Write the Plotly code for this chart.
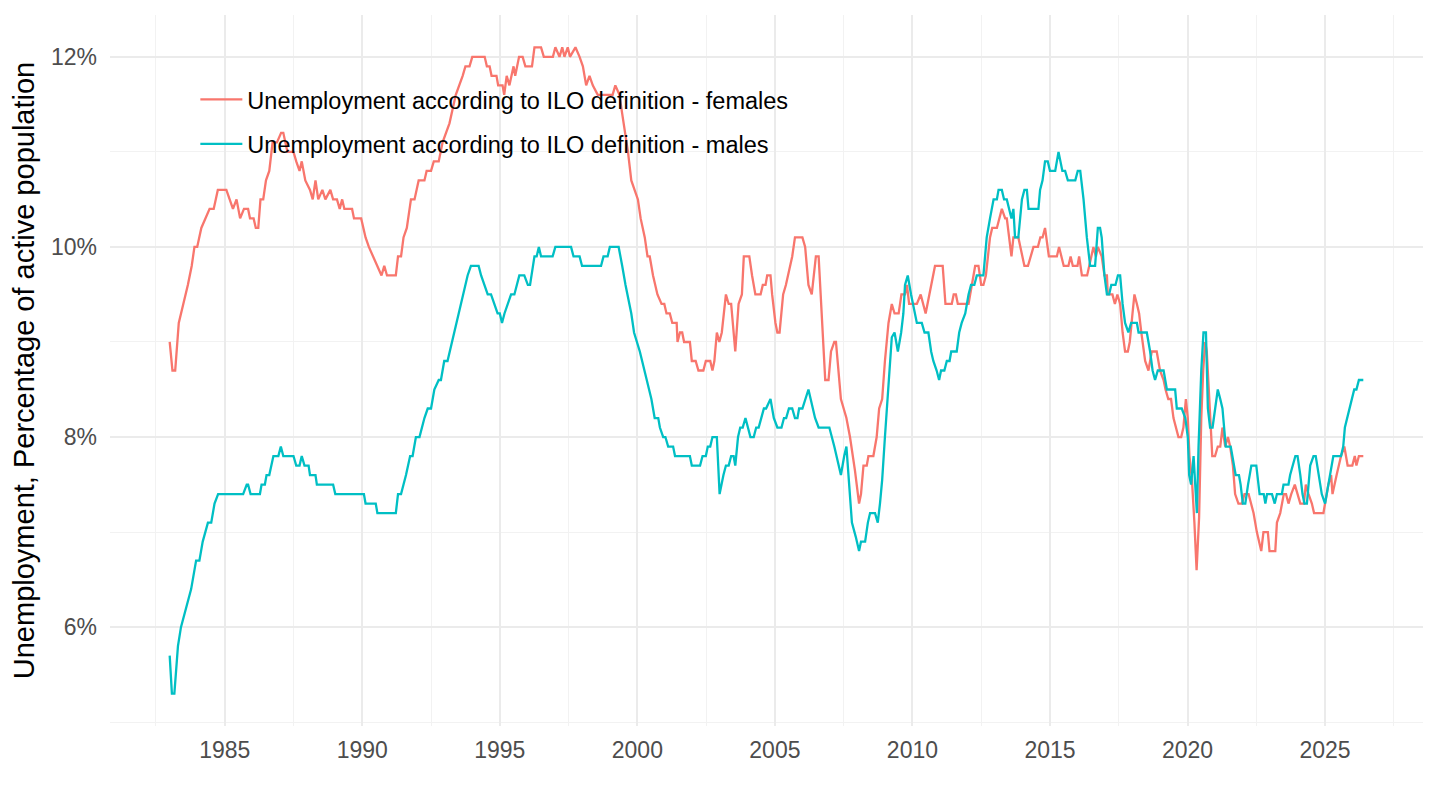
import plotly.graph_objects as go

# ---- data (decimal year, % of active population) ----
fem_year = [1983.00,1983.10,1983.20,1983.33,1983.66,1983.80,1983.90,1984.00,1984.15,1984.30,1984.45,1984.60,1984.75,
1985.06,1985.18,1985.30,1985.43,1985.56,1985.70,1985.85,1985.92,1986.05,1986.13,1986.22,1986.30,1986.40,1986.50,1986.62,
1986.74,1986.90,1987.05,1987.13,1987.28,1987.50,1987.60,1987.72,1987.80,1987.93,1988.10,1988.20,1988.30,1988.40,1988.55,
1988.66,1988.84,1988.94,1989.08,1989.18,1989.27,1989.35,1989.63,1989.70,1989.96,1990.12,1990.24,1990.40,1990.55,1990.70,
1990.80,1990.90,1991.22,1991.30,1991.41,1991.50,1991.62,1991.77,1991.90,1992.05,1992.26,1992.34,1992.50,1992.60,1992.78,
1992.92,1993.17,1993.40,1993.65,1993.75,1993.90,1994.00,1994.45,1994.53,1994.63,1994.70,1994.88,1994.94,1995.10,1995.16,
1995.25,1995.35,1995.50,1995.56,1995.70,1995.83,1995.93,1996.17,1996.26,1996.50,1996.60,1996.93,1997.02,1997.17,1997.27,
1997.35,1997.47,1997.55,1997.75,1997.90,1998.02,1998.14,1998.26,1998.38,1998.56,1999.10,1999.20,1999.35,1999.45,1999.56,
1999.66,1999.78,1999.90,2000.02,2000.12,2000.27,2000.37,2000.45,2000.57,2000.73,2000.88,2000.98,2001.06,2001.18,2001.27,
2001.43,2001.46,2001.55,2001.63,2001.70,2001.91,2001.98,2002.12,2002.22,2002.40,2002.49,2002.65,2002.73,2002.80,2002.89,
2002.98,2003.07,2003.22,2003.32,2003.41,2003.56,2003.68,2003.80,2003.87,2004.07,2004.17,2004.29,2004.48,2004.56,2004.66,
2004.72,2004.84,2004.90,2005.02,2005.09,2005.17,2005.30,2005.40,2005.63,2005.73,2006.00,2006.10,2006.22,2006.34,2006.49,
2006.59,2006.73,2006.83,2006.95,2007.04,2007.16,2007.22,2007.40,2007.60,2007.73,2007.91,2008.06,2008.13,2008.22,2008.34,
2008.40,2008.58,2008.70,2008.79,2008.90,2009.00,2009.13,2009.25,2009.35,2009.50,2009.60,2009.73,2009.80,2009.88,2010.16,
2010.30,2010.48,2010.70,2010.82,2011.10,2011.20,2011.43,2011.50,2011.58,2011.65,2012.04,2012.16,2012.28,2012.40,2012.50,
2012.58,2012.67,2012.82,2012.90,2013.07,2013.25,2013.37,2013.43,2013.60,2013.67,2013.85,2013.98,2014.07,2014.20,2014.40,
2014.56,2014.65,2014.73,2014.82,2014.96,2015.25,2015.33,2015.50,2015.67,2015.75,2015.83,2016.00,2016.06,2016.16,2016.35,
2016.42,2016.58,2016.67,2016.74,2016.88,2016.98,2017.07,2017.10,2017.27,2017.36,2017.45,2017.55,2017.64,2017.73,2017.83,
2017.90,2018.00,2018.07,2018.16,2018.24,2018.32,2018.46,2018.58,2018.70,2018.88,2019.00,2019.13,2019.20,2019.30,2019.40,
2019.49,2019.58,2019.67,2019.77,2019.85,2019.94,2020.01,2020.07,2020.16,2020.25,2020.33,2020.42,2020.50,2020.57,2020.64,
2020.70,2020.76,2020.82,2020.90,2021.00,2021.10,2021.19,2021.27,2021.37,2021.47,2021.55,2021.65,2021.73,2021.85,2021.98,
2022.07,2022.22,2022.32,2022.40,2022.52,2022.68,2022.76,2022.92,2022.98,2023.19,2023.25,2023.37,2023.50,2023.58,2023.67,
2023.77,2023.90,2024.00,2024.10,2024.23,2024.30,2024.40,2024.52,2024.60,2024.94,2025.00,2025.12,2025.22,2025.27,2025.42,
2025.58,2025.70,2025.82,2025.99,2026.08,2026.14,2026.23,2026.39]
fem_val = [9.0,8.7,8.7,9.2,9.6,9.8,10.0,10.0,10.2,10.3,10.4,10.4,10.6,
10.6,10.5,10.4,10.5,10.3,10.4,10.4,10.3,10.3,10.2,10.2,10.5,10.5,10.7,10.8,
11.1,11.1,11.2,11.2,11.0,11.0,10.9,10.8,10.9,10.7,10.6,10.5,10.7,10.5,10.6,
10.5,10.6,10.5,10.5,10.4,10.5,10.4,10.4,10.3,10.3,10.1,10.0,9.9,9.8,9.7,
9.8,9.7,9.7,9.9,9.9,10.1,10.2,10.5,10.5,10.7,10.7,10.8,10.8,10.9,10.9,
11.1,11.3,11.6,11.8,11.9,11.9,12.0,12.0,11.9,11.9,11.8,11.8,11.7,11.7,11.6,
11.8,11.7,11.9,11.8,12.0,12.0,11.9,11.9,12.1,12.1,12.0,12.0,12.1,12.0,12.1,
12.0,12.1,12.0,12.1,12.0,11.9,11.7,11.8,11.7,11.6,11.6,11.7,11.6,11.4,11.2,
11.0,10.7,10.6,10.5,10.3,10.1,9.9,9.9,9.7,9.5,9.4,9.4,9.3,9.3,9.2,
9.2,9.0,9.1,9.1,9.0,9.0,8.8,8.8,8.7,8.7,8.8,8.8,8.7,8.8,9.1,
9.0,9.1,9.5,9.4,9.4,8.9,9.4,9.5,9.9,9.9,9.7,9.5,9.5,9.6,9.6,
9.7,9.7,9.5,9.2,9.1,9.1,9.5,9.6,9.9,10.1,10.1,10.0,9.6,9.5,9.9,
9.9,9.1,8.6,8.6,8.9,9.0,9.0,8.4,8.2,8.0,7.65,7.3,7.4,7.7,7.7,
7.8,7.8,8.0,8.3,8.4,8.8,9.2,9.4,9.3,9.3,9.5,9.5,9.6,9.4,9.4,
9.5,9.3,9.6,9.8,9.8,9.4,9.4,9.5,9.5,9.4,9.4,9.6,9.8,9.8,9.6,
9.6,9.7,10.1,10.2,10.2,10.4,10.3,10.3,9.9,10.1,10.1,9.9,9.8,9.8,10.0,
10.0,10.1,10.1,10.2,9.9,9.9,10.0,9.8,9.8,9.9,9.8,9.8,9.9,9.7,9.7,
9.8,10.0,9.9,10.0,9.9,9.7,9.7,9.5,9.5,9.4,9.5,9.4,9.1,8.9,8.9,
9.0,9.3,9.5,9.4,9.3,9.1,8.8,8.7,8.9,8.9,8.7,8.6,8.5,8.4,8.4,
8.2,8.1,8.0,8.0,8.1,8.4,8.2,7.8,7.55,7.1,6.6,7.15,8.2,8.7,9.0,
8.9,8.6,8.3,7.8,7.8,7.9,7.9,8.1,7.9,8.0,7.9,7.7,7.4,7.3,7.3,
7.4,7.4,7.3,7.2,7.0,6.8,7.0,7.0,6.8,6.8,7.1,7.2,7.4,7.4,7.3,
7.4,7.5,7.4,7.3,7.3,7.5,7.4,7.3,7.2,7.2,7.3,7.5,7.6,7.4,7.6,
7.8,7.9,7.7,7.7,7.8,7.7,7.8,7.8]

mal_year = [1983.00,1983.08,1983.17,1983.30,1983.41,1983.60,1983.78,1983.96,1984.08,1984.20,1984.39,1984.51,1984.63,
1984.76,1985.67,1985.80,1985.85,1985.94,1986.28,1986.34,1986.46,1986.52,1986.62,1986.77,1986.95,1987.04,1987.13,1987.50,
1987.60,1987.72,1987.80,1987.90,1988.05,1988.10,1988.30,1988.35,1988.94,1989.02,1990.06,1990.12,1990.49,1990.55,1991.22,
1991.30,1991.41,1991.59,1991.74,1991.83,1991.95,1992.08,1992.26,1992.38,1992.50,1992.62,1992.78,1992.86,1992.98,1993.10,
1993.35,1993.59,1993.83,1993.95,1994.23,1994.32,1994.44,1994.56,1994.68,1994.80,1994.92,1995.00,1995.08,1995.17,1995.29,
1995.41,1995.53,1995.62,1995.71,1995.89,1996.02,1996.10,1996.26,1996.34,1996.42,1996.50,1996.92,1997.02,1997.59,1997.68,
1997.90,1997.99,1998.68,1998.77,1998.92,1999.00,1999.32,1999.45,1999.57,1999.78,1999.88,2000.09,2000.33,2000.51,2000.63,
2000.76,2000.82,2000.94,2001.02,2001.12,2001.30,2001.37,2001.91,2001.98,2002.28,2002.37,2002.49,2002.56,2002.65,2002.73,
2002.89,2002.99,2003.13,2003.22,2003.32,2003.41,2003.50,2003.56,2003.66,2003.74,2003.83,2003.93,2004.02,2004.11,2004.23,
2004.32,2004.41,2004.51,2004.60,2004.68,2004.84,2004.96,2005.09,2005.24,2005.33,2005.41,2005.51,2005.63,2005.73,2005.82,
2005.88,2006.00,2006.10,2006.22,2006.30,2006.46,2006.59,2006.98,2007.16,2007.40,2007.52,2007.60,2007.70,2007.80,2007.94,
2008.06,2008.13,2008.28,2008.38,2008.46,2008.64,2008.74,2008.82,2008.90,2009.00,2009.13,2009.25,2009.35,2009.47,2009.59,
2009.67,2009.73,2009.83,2009.95,2010.10,2010.16,2010.34,2010.44,2010.58,2010.68,2010.76,2010.88,2010.97,2011.04,2011.16,
2011.25,2011.35,2011.41,2011.61,2011.70,2011.79,2011.92,2012.04,2012.13,2012.25,2012.34,2012.58,2012.70,2012.82,2012.95,
2013.07,2013.13,2013.25,2013.33,2013.43,2013.52,2013.60,2013.67,2013.73,2013.85,2013.98,2014.07,2014.16,2014.22,2014.58,
2014.64,2014.73,2014.82,2014.92,2015.00,2015.19,2015.31,2015.45,2015.55,2015.65,2015.92,2016.01,2016.10,2016.22,2016.34,
2016.46,2016.64,2016.74,2016.82,2016.88,2016.98,2017.07,2017.15,2017.23,2017.38,2017.47,2017.55,2017.64,2017.73,2017.85,
2017.95,2018.16,2018.22,2018.52,2018.64,2018.73,2018.82,2018.92,2019.13,2019.25,2019.55,2019.61,2019.79,2019.92,2020.01,
2020.06,2020.13,2020.22,2020.28,2020.34,2020.40,2020.50,2020.58,2020.67,2020.74,2020.82,2020.91,2021.00,2021.10,2021.19,
2021.27,2021.39,2021.57,2021.63,2021.75,2021.87,2021.93,2022.01,2022.10,2022.20,2022.32,2022.50,2022.62,2022.77,2022.83,
2022.89,2023.07,2023.17,2023.25,2023.43,2023.49,2023.67,2023.73,2023.92,2024.00,2024.10,2024.18,2024.25,2024.34,2024.46,
2024.58,2024.66,2024.76,2024.88,2025.00,2025.12,2025.18,2025.30,2025.58,2025.66,2025.72,2025.84,2025.96,2026.06,2026.14,
2026.23,2026.39]
mal_val = [5.7,5.3,5.3,5.8,6.0,6.2,6.4,6.7,6.7,6.9,7.1,7.1,7.3,
7.4,7.4,7.5,7.5,7.4,7.4,7.5,7.5,7.6,7.6,7.8,7.8,7.9,7.8,7.8,
7.7,7.7,7.8,7.7,7.7,7.6,7.6,7.5,7.5,7.4,7.4,7.3,7.3,7.2,7.2,
7.4,7.4,7.6,7.8,7.8,8.0,8.0,8.2,8.3,8.3,8.5,8.6,8.6,8.8,8.8,
9.1,9.4,9.7,9.8,9.8,9.7,9.6,9.5,9.5,9.4,9.3,9.3,9.2,9.3,9.4,
9.5,9.5,9.6,9.7,9.7,9.6,9.6,9.9,9.9,10.0,9.9,9.9,10.0,10.0,9.9,
9.9,9.8,9.8,9.9,9.9,10.0,10.0,9.8,9.6,9.3,9.1,8.9,8.6,8.4,8.2,
8.2,8.1,8.0,8.0,7.9,7.9,7.8,7.8,7.7,7.7,7.8,7.8,7.9,7.9,8.0,
8.0,7.4,7.6,7.7,7.7,7.8,7.8,7.7,8.0,8.1,8.1,8.2,8.1,8.0,8.0,
8.1,8.1,8.2,8.3,8.3,8.4,8.2,8.1,8.1,8.2,8.2,8.3,8.3,8.2,8.2,
8.3,8.3,8.4,8.5,8.4,8.2,8.1,8.1,7.9,7.6,7.8,7.9,7.5,7.1,6.95,
6.8,6.9,6.9,7.1,7.2,7.2,7.1,7.3,7.55,8.0,8.5,9.05,9.1,8.9,9.1,
9.3,9.6,9.7,9.5,9.3,9.2,9.2,9.1,9.1,8.9,8.8,8.7,8.6,8.7,8.7,
8.8,8.8,8.9,8.9,9.1,9.2,9.3,9.5,9.6,9.6,9.7,9.7,10.1,10.3,10.5,
10.5,10.6,10.6,10.5,10.5,10.4,10.3,10.4,10.1,10.1,10.5,10.6,10.6,10.4,10.4,
10.6,10.7,10.9,10.9,10.8,10.8,11.0,10.8,10.8,10.7,10.7,10.8,10.8,10.5,10.1,
9.8,9.8,10.2,10.2,10.1,9.7,9.5,9.5,9.6,9.6,9.7,9.7,9.4,9.2,9.1,
9.2,9.2,9.1,9.1,8.9,8.7,8.6,8.7,8.7,8.5,8.5,8.3,8.3,8.2,8.0,
7.6,7.5,7.8,7.5,7.2,7.9,8.7,9.1,9.1,8.3,8.1,8.1,8.3,8.5,8.4,
8.3,7.9,7.9,7.8,7.6,7.6,7.5,7.3,7.3,7.5,7.7,7.7,7.4,7.4,7.3,
7.4,7.4,7.3,7.4,7.4,7.5,7.5,7.6,7.8,7.8,7.6,7.4,7.3,7.3,7.7,
7.8,7.8,7.6,7.4,7.3,7.5,7.6,7.8,7.8,7.9,8.1,8.25,8.4,8.5,8.5,
8.6,8.6]

series_names = ["Unemployment according to ILO definition - females",
                "Unemployment according to ILO definition - males"]
series_colors = ["#F8766D", "#00BFC4"]

x_tick_vals = [1985, 1990, 1995, 2000, 2005, 2010, 2015, 2020, 2025]
y_tick_vals = [6, 8, 10, 12]
y_tick_text = ["6%", "8%", "10%", "12%"]

FONT = "Liberation Sans, Arial, sans-serif"

fig = go.Figure()
for i, (xs, ys) in enumerate([(fem_year, fem_val), (mal_year, mal_val)]):
    fig.add_trace(go.Scatter(
        x=xs, y=ys, mode="lines", name=series_names[i],
        legendgroup=f"g{i}",
        line=dict(color=series_colors[i], width=2.3),
    ))

fig.update_layout(
    width=1440, height=810,
    margin=dict(l=102, r=25, t=7, b=92),
    paper_bgcolor="white", plot_bgcolor="white",
    font=dict(family=FONT, size=23, color="#4D4D4D"),
    showlegend=True,
    legend=dict(
        x=0.065, y=0.912, xanchor="left", yanchor="top",
        bgcolor="rgba(0,0,0,0)", borderwidth=0,
        font=dict(family=FONT, size=23.5, color="black"),
        tracegroupgap=11, itemwidth=42,
    ),
    xaxis=dict(
        range=[1980.83, 2028.56],
        tickvals=x_tick_vals, ticktext=[str(v) for v in x_tick_vals],
        showgrid=True, gridcolor="#EBEBEB", gridwidth=2,
        zeroline=False, showline=False, ticks="",
        tickfont=dict(size=23, color="#4D4D4D"),
        ticklabelstandoff=8, automargin=False,
        minor=dict(tickvals=[1982.5 + 5 * k for k in range(10)],
                   showgrid=True, gridcolor="#F2F2F2", gridwidth=1),
    ),
    yaxis=dict(
        range=[4.96, 12.44],
        tickvals=y_tick_vals, ticktext=y_tick_text,
        showgrid=True, gridcolor="#EBEBEB", gridwidth=2,
        zeroline=False, showline=False, ticks="",
        tickfont=dict(size=23, color="#4D4D4D"),
        ticklabelstandoff=12, automargin=False,
        minor=dict(tickvals=[5, 7, 9, 11], showgrid=True,
                   gridcolor="#F2F2F2", gridwidth=1),
        title=dict(text="Unemployment, Percentage of active population",
                   font=dict(size=29, color="black"), standoff=12),
    ),
)

fig.write_html("out.html")
